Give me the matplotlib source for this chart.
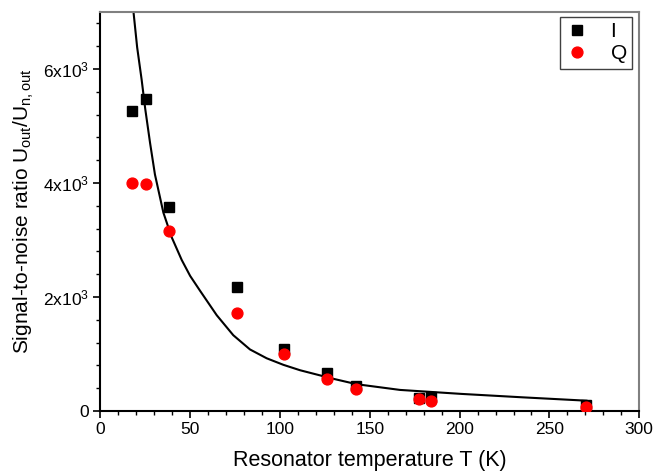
import matplotlib
matplotlib.use("Agg")
import matplotlib.pyplot as plt
from matplotlib.ticker import MultipleLocator, FixedLocator, FixedFormatter

plt.rcParams['font.family'] = ['Liberation Sans', 'DejaVu Sans']
plt.rcParams['mathtext.fontset'] = 'custom'
plt.rcParams['mathtext.rm'] = 'Liberation Sans'
plt.rcParams['mathtext.it'] = 'Liberation Sans'

# Data
T_meas = [17.5, 25.5, 38.2, 76.3, 102.2, 126.0, 142.3, 177.4, 184.0, 270.5]
I_vals = [5256, 5479, 3576, 2172, 1083, 673, 444, 230, 246, 105]
Q_vals = [3992, 3980, 3161, 1715, 1001, 557, 381, 218, 170, 70]

T_fit = [18.3, 20.5, 23.0, 25.0, 27.7, 30.4, 35.1, 39.7, 45.3, 50.0, 55.5, 64.8, 74.0,
         83.3, 92.6, 101.9, 111.2, 129.7, 142.7, 166.8, 201.0, 235.0, 270.6]
fit_vals = [7050, 6380, 5812, 5300, 4700, 4150, 3480, 3050, 2650, 2370, 2110, 1680, 1330,
            1080, 925, 810, 715, 565, 470, 370, 300, 240, 181]

y_ticks = [0, 2000, 4000, 6000]
y_ticklabels = ['0', r'2x10$^3$', r'4x10$^3$', r'6x10$^3$']

fig = plt.figure(figsize=(6.54, 4.74), dpi=100)
ax = fig.add_axes([0.1534, 0.1329, 0.8241, 0.8418])

ax.plot(T_fit, fit_vals, color='black', lw=1.5, zorder=2, solid_joinstyle='round')
ax.plot(T_meas, I_vals, 's', color='black', ms=6.8, label='I', zorder=3, ls='none')
ax.plot(T_meas, Q_vals, 'o', color='#ff0000', ms=7.8, label='Q', zorder=4, ls='none')

ax.set_xlim(0, 300)
ax.set_ylim(0, 7000)
ax.xaxis.set_major_locator(MultipleLocator(50))
ax.xaxis.set_minor_locator(MultipleLocator(10))
ax.yaxis.set_major_locator(FixedLocator(y_ticks))
ax.yaxis.set_major_formatter(FixedFormatter(y_ticklabels))
ax.yaxis.set_minor_locator(MultipleLocator(400))

ax.tick_params(which='major', direction='out', length=5, width=1.2, labelsize=12.5, pad=3)
ax.tick_params(which='minor', direction='out', length=3, width=1.0)
ax.tick_params(top=False, right=False)

for s in ['left', 'bottom']:
    ax.spines[s].set_linewidth(1.5)
    ax.spines[s].set_color('black')
for s in ['top', 'right']:
    ax.spines[s].set_linewidth(1.5)
    ax.spines[s].set_color('#808080')

ax.set_xlabel('Resonator temperature T (K)', fontsize=15.5, labelpad=9)
ax.set_ylabel(r'Signal-to-noise ratio U$_{\mathrm{out}}$/U$_{\mathrm{n,out}}$', fontsize=15, labelpad=5)

leg = ax.legend(loc='upper right', fontsize=15, frameon=True, fancybox=False,
                edgecolor='#404040', framealpha=1, handletextpad=1.0,
                borderpad=0.25, labelspacing=0.15, handlelength=1.2,
                borderaxespad=0, bbox_to_anchor=(0.9865, 0.9875))
leg.get_frame().set_linewidth(1.0)

fig.savefig('out.png', dpi=100)
